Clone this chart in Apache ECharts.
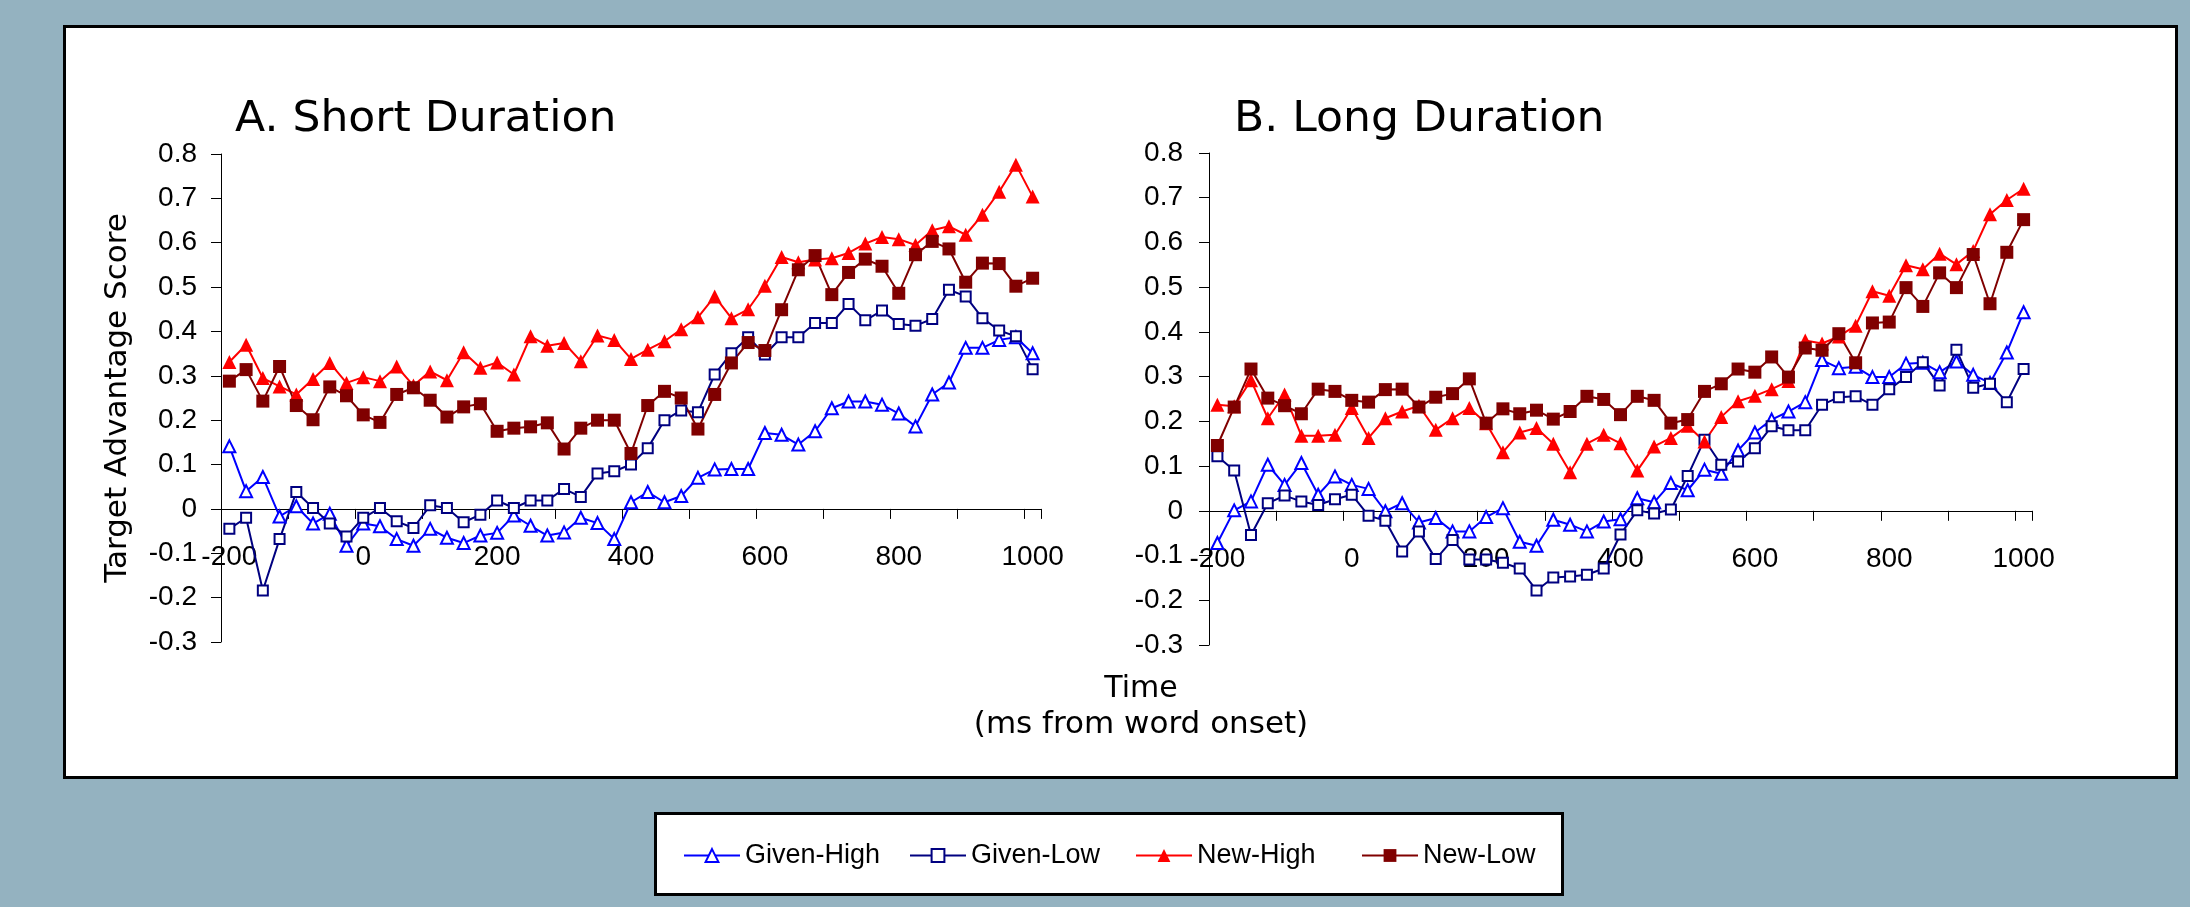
<!DOCTYPE html>
<html>
<head>
<meta charset="utf-8">
<script src="https://cdn.jsdelivr.net/npm/echarts@6/dist/echarts.min.js"></script>
<style>
    html, body { margin: 0; padding: 0; background: #94b2c0; }
    #chart { width: 2190px; height: 907px; }
</style>
</head>
<body>
<div id="chart"></div>
<script>
// time points (ms from word onset), one per 25 ms
const timeLabels = ['-200', '-175', '-150', '-125', '-100', '-75', '-50', '-25', '0', '25',
    '50', '75', '100', '125', '150', '175', '200', '225', '250', '275',
    '300', '325', '350', '375', '400', '425', '450', '475', '500', '525',
    '550', '575', '600', '625', '650', '675', '700', '725', '750', '775',
    '800', '825', '850', '875', '900', '925', '950', '975', '1000'];

// A. Short Duration
const shortGivenHigh = [0.141, 0.040, 0.072, -0.017, 0.006, -0.033, -0.011, -0.083, -0.033, -0.039,
    -0.068, -0.083, -0.045, -0.065, -0.077, -0.060, -0.054, -0.015, -0.038, -0.060,
    -0.053, -0.020, -0.032, -0.068, 0.015, 0.038, 0.015, 0.029, 0.070, 0.089,
    0.090, 0.090, 0.171, 0.167, 0.145, 0.175, 0.227, 0.242, 0.242, 0.235,
    0.215, 0.186, 0.258, 0.285, 0.363, 0.363, 0.381, 0.387, 0.351];
const shortGivenLow = [-0.045, -0.020, -0.184, -0.068, 0.038, 0.002, -0.033, -0.062, -0.020, 0.002,
    -0.028, -0.043, 0.008, 0.002, -0.030, -0.013, 0.019, 0.002, 0.019, 0.019,
    0.045, 0.027, 0.080, 0.085, 0.100, 0.137, 0.200, 0.222, 0.218, 0.303,
    0.351, 0.387, 0.348, 0.387, 0.387, 0.419, 0.419, 0.462, 0.425, 0.447,
    0.417, 0.413, 0.428, 0.494, 0.479, 0.430, 0.402, 0.389, 0.315];
const shortNewHigh = [0.331, 0.370, 0.295, 0.276, 0.258, 0.293, 0.329, 0.284, 0.297, 0.288,
    0.321, 0.278, 0.310, 0.290, 0.353, 0.318, 0.330, 0.303, 0.389, 0.368,
    0.374, 0.333, 0.391, 0.381, 0.338, 0.359, 0.378, 0.405, 0.432, 0.479,
    0.430, 0.450, 0.503, 0.568, 0.556, 0.562, 0.565, 0.577, 0.598, 0.613,
    0.608, 0.595, 0.628, 0.637, 0.618, 0.663, 0.715, 0.776, 0.704];
const shortNewLow = [0.288, 0.314, 0.243, 0.321, 0.233, 0.201, 0.275, 0.255, 0.212, 0.195,
    0.258, 0.273, 0.245, 0.207, 0.230, 0.237, 0.175, 0.182, 0.185, 0.194,
    0.135, 0.182, 0.200, 0.200, 0.125, 0.233, 0.265, 0.250, 0.180, 0.258,
    0.329, 0.375, 0.357, 0.449, 0.539, 0.571, 0.483, 0.533, 0.563, 0.547,
    0.486, 0.573, 0.603, 0.586, 0.511, 0.554, 0.553, 0.502, 0.520];

// B. Long Duration
const longGivenHigh = [-0.072, 0.001, 0.021, 0.103, 0.058, 0.107, 0.036, 0.077, 0.058, 0.049,
    -0.001, 0.017, -0.026, -0.016, -0.046, -0.046, -0.014, 0.006, -0.069, -0.078,
    -0.020, -0.031, -0.046, -0.024, -0.019, 0.028, 0.019, 0.062, 0.046, 0.092,
    0.083, 0.135, 0.175, 0.204, 0.222, 0.243, 0.337, 0.319, 0.322, 0.299,
    0.299, 0.329, 0.331, 0.310, 0.334, 0.304, 0.286, 0.354, 0.444];
const longGivenLow = [0.122, 0.090, -0.054, 0.017, 0.034, 0.021, 0.013, 0.026, 0.036, -0.011,
    -0.022, -0.091, -0.046, -0.108, -0.065, -0.109, -0.109, -0.116, -0.129, -0.178,
    -0.149, -0.147, -0.143, -0.129, -0.053, 0.001, -0.006, 0.003, 0.078, 0.159,
    0.103, 0.110, 0.140, 0.189, 0.180, 0.180, 0.237, 0.254, 0.256, 0.237,
    0.272, 0.299, 0.332, 0.280, 0.360, 0.275, 0.284, 0.243, 0.317];
const longNewHigh = [0.237, 0.234, 0.292, 0.207, 0.260, 0.168, 0.168, 0.170, 0.230, 0.163,
    0.207, 0.222, 0.235, 0.181, 0.207, 0.230, 0.196, 0.131, 0.175, 0.185,
    0.150, 0.086, 0.150, 0.170, 0.151, 0.090, 0.144, 0.163, 0.190, 0.155,
    0.210, 0.245, 0.257, 0.272, 0.290, 0.381, 0.374, 0.390, 0.414, 0.491,
    0.481, 0.549, 0.540, 0.575, 0.551, 0.581, 0.663, 0.695, 0.720];
const longNewLow = [0.146, 0.232, 0.317, 0.252, 0.235, 0.217, 0.272, 0.267, 0.247, 0.243,
    0.271, 0.272, 0.232, 0.254, 0.262, 0.295, 0.196, 0.228, 0.217, 0.225,
    0.205, 0.222, 0.256, 0.249, 0.215, 0.256, 0.247, 0.196, 0.204, 0.267,
    0.284, 0.317, 0.310, 0.344, 0.299, 0.364, 0.359, 0.396, 0.331, 0.420,
    0.422, 0.499, 0.457, 0.532, 0.499, 0.573, 0.463, 0.578, 0.651];

const seriesNames = ['Given-High', 'Given-Low', 'New-High', 'New-Low'];
const seriesColors = ['#0000ff', '#000080', '#ff0000', '#800000'];
const seriesSymbols = ['emptyTriangle', 'emptyRect', 'triangle', 'rect'];
const symbolSizes = [12, 10, 14, 13];

const yMin = -0.3;
const yMax = 0.8;

const tickFont = 'Liberation Sans, Arial, sans-serif';
const textFont = 'DejaVu Sans, Verdana, sans-serif';

const grids = [
    { left: 221, top: 154, width: 820, height: 488 },
    { left: 1209, top: 153, width: 823, height: 492 }
];

const chart = echarts.init(document.getElementById('chart'));

// the x axis crosses at 0, labels sit right under it (Excel style)
function makeX(gridIndex) {
    const g = grids[gridIndex];
    const zeroFromBottom = g.height * (0 - yMin) / (yMax - yMin);
    return {
        type: 'category',
        gridIndex: gridIndex,
        data: timeLabels,
        boundaryGap: true,
        offset: -zeroFromBottom,
        axisLine: { show: true, onZero: false, lineStyle: { color: '#000', width: 1 } },
        axisTick: { show: true, interval: 3, length: 10, lineStyle: { color: '#000' } },
        axisLabel: { interval: 7, margin: 34, fontSize: 28, color: '#000', fontFamily: tickFont },
        splitLine: { show: false }
    };
}

function makeY(gridIndex, margin) {
    return {
        type: 'value',
        gridIndex: gridIndex,
        min: yMin,
        max: yMax,
        interval: 0.1,
        axisLine: { show: true, onZero: false, lineStyle: { color: '#000', width: 1 } },
        axisTick: { show: true, length: 10, lineStyle: { color: '#000' } },
        axisLabel: {
            margin: margin,
            fontSize: 28,
            color: '#000',
            fontFamily: tickFont,
            formatter: (v) => String(Math.round(v * 10) / 10)
        },
        splitLine: { show: false }
    };
}

function makeSeries(gridIndex, lists) {
    return lists.map((values, k) => ({
        name: seriesNames[k],
        type: 'line',
        xAxisIndex: gridIndex,
        yAxisIndex: gridIndex,
        data: values,
        symbol: seriesSymbols[k],
        symbolSize: symbolSizes[k],
        showSymbol: true,
        showAllSymbol: true,
        color: seriesColors[k],
        lineStyle: { color: seriesColors[k], width: 2 },
        itemStyle: { color: seriesColors[k], borderWidth: k < 2 ? 2 : 0 },
        emphasis: { disabled: true }
    }));
}

// 4 legend cells at fixed columns, like the original
const legendLefts = [678, 904, 1130, 1356];
const legends = seriesNames.map((name, k) => ({
    data: [name],
    left: legendLefts[k],
    top: 837,
    itemWidth: 56,
    itemHeight: 16,
    selectedMode: false,
    textStyle: { fontSize: 27, color: '#000', fontFamily: tickFont }
}));

chart.setOption({
    animation: false,
    backgroundColor: '#94b2c0',
    legend: legends,
    grid: grids,
    xAxis: [makeX(0), makeX(1)],
    yAxis: [
        Object.assign(makeY(0, 24), {
            name: 'Target Advantage Score',
            nameLocation: 'middle',
            nameRotate: 90,
            nameGap: 88,
            nameTextStyle: { fontSize: 31, color: '#000', fontFamily: textFont }
        }),
        makeY(1, 26)
    ],
    graphic: [
        {
            type: 'rect', z: -10,
            shape: { x: 64.5, y: 26.5, width: 2112, height: 751 },
            style: { fill: '#fff', stroke: '#000', lineWidth: 3 }
        },
        {
            type: 'rect', z: -10,
            shape: { x: 655.5, y: 813.5, width: 907, height: 81 },
            style: { fill: '#fff', stroke: '#000', lineWidth: 3 }
        },
        {
            type: 'text', x: 235, y: 120, scaleX: 1.05,
            style: { text: 'A. Short Duration', font: '42px ' + textFont, fill: '#000', align: 'left', verticalAlign: 'middle' }
        },
        {
            type: 'text', x: 1234, y: 120, scaleX: 1.05,
            style: { text: 'B. Long Duration', font: '42px ' + textFont, fill: '#000', align: 'left', verticalAlign: 'middle' }
        },
        {
            type: 'text', x: 1141, y: 689,
            style: { text: 'Time', font: '30px ' + textFont, fill: '#000', align: 'center', verticalAlign: 'middle' }
        },
        {
            type: 'text', x: 1141, y: 725,
            style: { text: '(ms from word onset)', font: '31px ' + textFont, fill: '#000', align: 'center', verticalAlign: 'middle' }
        }
    ],
    series: [
        ...makeSeries(0, [shortGivenHigh, shortGivenLow, shortNewHigh, shortNewLow]),
        ...makeSeries(1, [longGivenHigh, longGivenLow, longNewHigh, longNewLow])
    ]
});
</script>
</body>
</html>
